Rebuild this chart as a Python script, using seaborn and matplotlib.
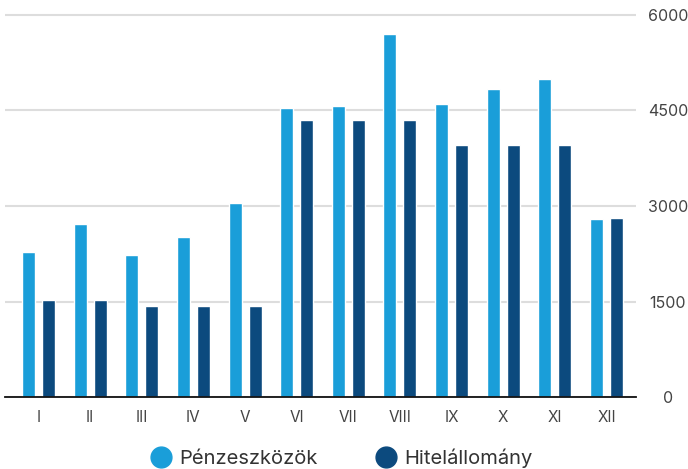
import matplotlib
matplotlib.use("Agg")
import matplotlib.pyplot as plt
from matplotlib.lines import Line2D
import seaborn as sns
import pandas as pd

months = ["I", "II", "III", "IV", "V", "VI", "VII", "VIII", "IX", "X", "XI", "XII"]
penzeszkozok = [2280, 2720, 2230, 2510, 3050, 4540, 4570, 5700, 4600, 4840, 5000, 2800]
hitelallomany = [1520, 1520, 1430, 1430, 1430, 4350, 4350, 4350, 3960, 3960, 3960, 2810]
series_names = ["Pénzeszközök", "Hitelállomány"]
y_ticks = [0, 1500, 3000, 4500, 6000]

colors = ["#1a9ed9", "#0c4a7e"]

df = pd.DataFrame({
    "month": months * 2,
    "value": penzeszkozok + hitelallomany,
    "series": [series_names[0]] * len(months) + [series_names[1]] * len(months),
})

sns.set_theme(style="white")
plt.rcParams["font.family"] = ["Inter", "DejaVu Sans"]

fig = plt.figure(figsize=(6.88, 4.69), dpi=100)
W, H = 688, 469
left_px, right_px, top_px, bottom_px = 5, 636, 10, 397
ax = fig.add_axes([left_px / W, 1 - bottom_px / H, (right_px - left_px) / W, (bottom_px - top_px) / H])

sns.barplot(data=df, x="month", y="value", hue="series", palette=colors,
            width=0.775, gap=0.35, ax=ax, legend=False, saturation=1)

px_per_unit = (397 - 15) / 6000
ax.set_ylim(0, (bottom_px - top_px) / px_per_unit)
ax.set_xlim(-0.647, 11.57)

ax.set_yticks(y_ticks)
ax.set_yticklabels([str(v) for v in y_ticks])
ax.yaxis.tick_right()
ax.tick_params(axis="y", length=0, pad=23, labelsize=11.5, labelcolor="#444444")
ax.tick_params(axis="x", length=0, pad=9, labelsize=11, labelcolor="#444444")
for lbl in ax.get_yticklabels():
    lbl.set_horizontalalignment("center")

ax.grid(axis="y", color="#dddddd", linewidth=1.5)
ax.set_axisbelow(True)
for s in ["top", "right", "left"]:
    ax.spines[s].set_visible(False)
ax.spines["bottom"].set_color("#111111")
ax.spines["bottom"].set_linewidth(1.3)
ax.set_xlabel("")
ax.set_ylabel("")

handles = [Line2D([0], [0], marker="o", linestyle="", markersize=15,
                  markerfacecolor=c, markeredgecolor=c) for c in colors]
fig.legend(handles, series_names, loc="center", bbox_to_anchor=(340.5 / W, 11 / H),
           ncol=2, frameon=False, fontsize=14.5, labelcolor="#333333",
           handletextpad=0.3, columnspacing=2.8, handlelength=1.2)

fig.savefig("out.png", dpi=100)
